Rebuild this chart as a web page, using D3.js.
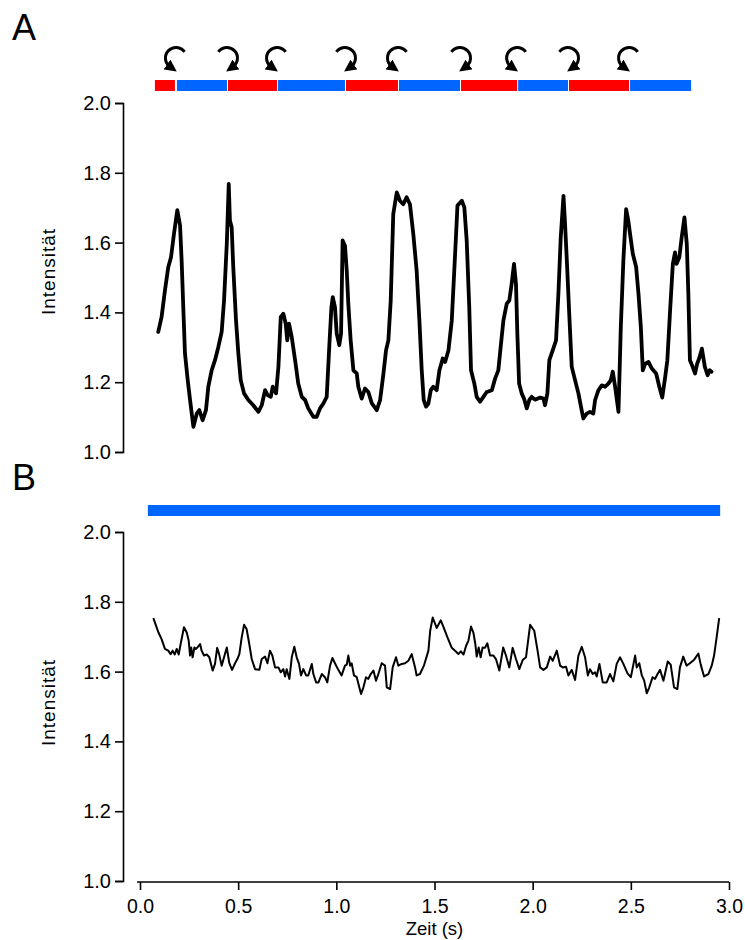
<!DOCTYPE html>
<html>
<head>
<meta charset="utf-8">
<script src="https://cdn.jsdelivr.net/npm/d3@7"></script>
<style>
  html, body { margin: 0; padding: 0; background: #fff; }
  svg { display: block; font-family: "Liberation Sans", Arial, sans-serif; }
</style>
</head>
<body>
<svg id="chart" width="745" height="940"></svg>
<script>
// ---------- data ----------
const xTicks = [0.0, 0.5, 1.0, 1.5, 2.0, 2.5, 3.0];
const yTicks = [1.0, 1.2, 1.4, 1.6, 1.8, 2.0];

// stimulation bar segments in panel A (time boundaries, colors)
const segBounds = [0.076, 0.183, 0.443, 0.698, 1.044, 1.314, 1.630, 1.921, 2.180, 2.491, 2.807];
const segColors = ["red", "blue", "red", "blue", "red", "blue", "red", "blue", "red", "blue"];
// arrows at inner boundaries: "ccw" at red->blue, "cw" at blue->red
const arrowTimes = [0.183, 0.443, 0.698, 1.044, 1.314, 1.630, 1.921, 2.180, 2.491];
const arrowTypes = ["ccw", "cw", "ccw", "cw", "ccw", "cw", "ccw", "cw", "ccw"];

// panel B bar
const barB = [0.04, 2.955];

// panel A trace
const aTime = [0.093,0.110,0.127,0.144,0.158,0.173,0.190,0.204,0.212,0.221,0.229,0.243,0.255,0.272,0.289,0.302,0.319,0.336,0.348,0.365,0.382,0.399,0.416,0.428,0.442,0.452,0.458,0.467,0.475,0.489,0.501,0.513,0.530,0.552,0.577,0.603,0.620,0.637,0.650,0.666,0.676,0.693,0.705,0.717,0.730,0.742,0.750,0.759,0.773,0.790,0.806,0.824,0.841,0.857,0.883,0.900,0.917,0.934,0.951,0.964,0.975,0.982,0.993,1.002,1.015,1.024,1.032,1.044,1.053,1.061,1.073,1.087,1.104,1.112,1.129,1.146,1.163,1.181,1.206,1.223,1.240,1.253,1.265,1.277,1.290,1.308,1.324,1.341,1.358,1.375,1.392,1.409,1.423,1.435,1.445,1.457,1.469,1.481,1.494,1.511,1.525,1.542,1.554,1.571,1.588,1.605,1.617,1.639,1.652,1.664,1.677,1.686,1.703,1.715,1.732,1.749,1.766,1.792,1.809,1.825,1.837,1.851,1.868,1.881,1.893,1.905,1.915,1.922,1.931,1.944,1.956,1.970,1.983,1.995,2.012,2.038,2.055,2.063,2.075,2.085,2.102,2.119,2.131,2.143,2.157,2.165,2.174,2.187,2.199,2.216,2.233,2.246,2.258,2.275,2.292,2.309,2.318,2.335,2.352,2.369,2.386,2.398,2.408,2.420,2.437,2.449,2.462,2.476,2.487,2.496,2.510,2.527,2.539,2.551,2.561,2.573,2.590,2.607,2.629,2.645,2.660,2.675,2.686,2.700,2.714,2.725,2.733,2.747,2.759,2.773,2.785,2.793,2.801,2.815,2.827,2.838,2.848,2.862,2.877,2.891,2.902,2.911];
const aVal = [1.344,1.387,1.463,1.530,1.558,1.625,1.693,1.649,1.549,1.406,1.283,1.206,1.149,1.072,1.110,1.120,1.091,1.120,1.187,1.234,1.263,1.301,1.344,1.434,1.596,1.768,1.663,1.644,1.530,1.377,1.282,1.206,1.168,1.149,1.134,1.115,1.134,1.177,1.163,1.158,1.187,1.168,1.244,1.387,1.396,1.368,1.320,1.368,1.329,1.263,1.196,1.158,1.149,1.125,1.101,1.101,1.125,1.139,1.158,1.301,1.415,1.444,1.415,1.339,1.306,1.339,1.606,1.591,1.520,1.425,1.320,1.234,1.225,1.187,1.153,1.182,1.172,1.139,1.120,1.149,1.225,1.291,1.320,1.434,1.682,1.744,1.720,1.710,1.730,1.710,1.625,1.520,1.377,1.234,1.149,1.130,1.139,1.177,1.187,1.177,1.234,1.268,1.258,1.291,1.377,1.568,1.706,1.720,1.701,1.606,1.415,1.234,1.196,1.158,1.144,1.158,1.172,1.177,1.211,1.234,1.301,1.377,1.425,1.434,1.482,1.539,1.482,1.339,1.196,1.168,1.153,1.125,1.149,1.158,1.150,1.156,1.153,1.134,1.168,1.263,1.291,1.320,1.453,1.615,1.734,1.653,1.549,1.387,1.244,1.206,1.168,1.130,1.096,1.110,1.115,1.110,1.149,1.177,1.191,1.187,1.196,1.206,1.230,1.187,1.115,1.358,1.549,1.696,1.663,1.625,1.568,1.530,1.453,1.358,1.234,1.253,1.258,1.239,1.225,1.187,1.156,1.215,1.263,1.406,1.539,1.572,1.539,1.558,1.615,1.672,1.596,1.453,1.263,1.244,1.225,1.253,1.268,1.296,1.244,1.220,1.234,1.230];

// panel B trace
const bTime = [0.068,0.082,0.094,0.110,0.127,0.144,0.156,0.166,0.177,0.187,0.197,0.207,0.224,0.238,0.248,0.255,0.261,0.268,0.277,0.285,0.295,0.306,0.314,0.326,0.340,0.353,0.370,0.382,0.393,0.403,0.416,0.428,0.442,0.455,0.469,0.484,0.496,0.506,0.518,0.530,0.543,0.555,0.569,0.586,0.608,0.620,0.637,0.649,0.662,0.674,0.688,0.705,0.717,0.730,0.739,0.747,0.761,0.773,0.786,0.798,0.810,0.820,0.832,0.846,0.857,0.875,0.883,0.897,0.909,0.926,0.942,0.954,0.968,0.980,0.993,1.010,1.027,1.044,1.053,1.061,1.070,1.078,1.090,1.104,1.117,1.126,1.138,1.151,1.163,1.175,1.189,1.202,1.214,1.231,1.248,1.257,1.274,1.287,1.304,1.316,1.333,1.350,1.367,1.384,1.401,1.409,1.426,1.446,1.469,1.478,1.491,1.511,1.532,1.545,1.566,1.588,1.610,1.622,1.634,1.648,1.661,1.673,1.686,1.698,1.708,1.715,1.725,1.735,1.745,1.757,1.769,1.783,1.800,1.813,1.830,1.850,1.864,1.881,1.898,1.915,1.932,1.949,1.966,1.987,2.008,2.025,2.038,2.055,2.072,2.089,2.102,2.123,2.140,2.153,2.170,2.182,2.199,2.216,2.233,2.250,2.267,2.281,2.292,2.306,2.318,2.326,2.340,2.357,2.377,2.394,2.411,2.428,2.445,2.462,2.483,2.500,2.510,2.522,2.530,2.543,2.556,2.568,2.581,2.594,2.611,2.623,2.636,2.649,2.666,2.688,2.703,2.720,2.737,2.750,2.767,2.784,2.801,2.821,2.844,2.856,2.873,2.895,2.912,2.924,2.937,2.950];
const bVal = [1.753,1.731,1.712,1.693,1.665,1.660,1.650,1.660,1.649,1.665,1.649,1.679,1.727,1.712,1.689,1.646,1.669,1.641,1.669,1.665,1.671,1.679,1.660,1.646,1.649,1.641,1.603,1.622,1.668,1.650,1.617,1.641,1.669,1.624,1.605,1.624,1.636,1.650,1.698,1.734,1.722,1.684,1.636,1.607,1.605,1.636,1.643,1.624,1.660,1.646,1.612,1.612,1.598,1.607,1.586,1.607,1.579,1.641,1.671,1.641,1.622,1.589,1.607,1.589,1.589,1.622,1.593,1.569,1.569,1.593,1.584,1.569,1.617,1.639,1.624,1.605,1.589,1.617,1.620,1.646,1.617,1.624,1.589,1.584,1.555,1.536,1.555,1.584,1.579,1.593,1.603,1.574,1.593,1.624,1.617,1.555,1.550,1.612,1.641,1.617,1.622,1.624,1.631,1.650,1.612,1.589,1.593,1.617,1.660,1.717,1.755,1.725,1.747,1.729,1.698,1.668,1.657,1.650,1.658,1.649,1.674,1.689,1.729,1.712,1.679,1.643,1.669,1.641,1.669,1.668,1.681,1.646,1.646,1.636,1.603,1.669,1.646,1.612,1.668,1.636,1.607,1.633,1.641,1.734,1.717,1.660,1.612,1.605,1.612,1.643,1.631,1.660,1.617,1.612,1.614,1.589,1.605,1.576,1.646,1.671,1.641,1.589,1.607,1.593,1.598,1.586,1.622,1.569,1.569,1.593,1.572,1.622,1.641,1.622,1.595,1.584,1.612,1.646,1.612,1.624,1.589,1.574,1.538,1.555,1.584,1.579,1.593,1.605,1.574,1.629,1.620,1.555,1.550,1.612,1.643,1.617,1.624,1.633,1.652,1.620,1.586,1.593,1.617,1.646,1.698,1.753];

// ---------- layout ----------
const svg = d3.select("#chart");
const x = d3.scaleLinear().domain([0, 3]).range([140, 729]);
const yA = d3.scaleLinear().domain([1, 2]).range([452, 103]);
const yB = d3.scaleLinear().domain([1, 2]).range([881, 532]);
const axisX = 123;
const RED = "#ff0000", BLUE = "#0066ff";
const FONT = "Liberation Sans, Arial, sans-serif";

// panel letters
svg.append("text").attr("x", 12).attr("y", 40).attr("font-size", 36).text("A");
svg.append("text").attr("x", 12).attr("y", 490).attr("font-size", 36).text("B");

function yAxis(scale) {
  const g = svg.append("g").attr("transform", `translate(${axisX},0)`)
    .call(d3.axisLeft(scale).tickValues(yTicks).tickFormat(d3.format(".1f")).tickSize(8).tickPadding(4));
  g.selectAll("path, line").attr("stroke", "#000").attr("stroke-width", 1.6);
  g.selectAll("text").attr("font-size", 20).attr("font-family", FONT).attr("fill", "#000");
  return g;
}
yAxis(yA);
yAxis(yB);

// y labels
[272, 703].forEach(cy => {
  svg.append("text").attr("transform", `translate(55,${cy}) rotate(-90)`)
    .attr("text-anchor", "middle").attr("font-size", 19)
    .attr("textLength", 86).attr("lengthAdjust", "spacing").text("Intensität");
});

// x axis (panel B)
const gx = svg.append("g").attr("transform", "translate(0,882)")
  .call(d3.axisBottom(x).tickValues(xTicks).tickFormat(d3.format(".1f")).tickSize(8).tickSizeOuter(0).tickPadding(9));
gx.select("path.domain").attr("d", `M${x(-0.015)},0H${x(3)}`);
gx.selectAll("path, line").attr("stroke", "#000").attr("stroke-width", 1.6);
gx.selectAll("text").attr("font-size", 19.5).attr("font-family", FONT).attr("fill", "#000");
svg.append("text").attr("x", x(1.5)).attr("y", 935).attr("text-anchor", "middle").attr("font-size", 18.5).text("Zeit (s)");

// stimulation bar A
const segs = segColors.map((c, i) => ({ c, t0: segBounds[i], t1: segBounds[i + 1] }));
svg.append("g").selectAll("rect").data(segs).join("rect")
  .attr("x", d => x(d.t0) + (d.t0 === segBounds[0] ? 0 : 1))
  .attr("width", d => x(d.t1) - x(d.t0) - 1)
  .attr("y", 80).attr("height", 11)
  .attr("fill", d => d.c === "red" ? RED : BLUE);

// arrows
const defs = svg.append("defs");
defs.append("marker").attr("id", "ah").attr("markerUnits", "userSpaceOnUse")
  .attr("viewBox", "0 0 10 10").attr("refX", 3).attr("refY", 5)
  .attr("markerWidth", 12).attr("markerHeight", 12).attr("orient", "auto")
  .append("path").attr("d", "M0,0L10,5L0,10Z").attr("fill", "#000");

const cy = 58, r = 10.5;
const pt = (cx, deg) => [cx + r * Math.cos(deg * Math.PI / 180), cy + r * Math.sin(deg * Math.PI / 180)];
svg.append("g").selectAll("path").data(arrowTimes.map((t, i) => ({ t, type: arrowTypes[i] }))).join("path")
  .attr("d", d => {
    const cx = x(d.t);
    if (d.type === "ccw") {
      const s = pt(cx, -35), e = pt(cx, 125);
      return `M${s[0]},${s[1]}A${r},${r} 0 1 0 ${e[0]},${e[1]}`;
    } else {
      const s = pt(cx, 215), e = pt(cx, 55);
      return `M${s[0]},${s[1]}A${r},${r} 0 1 1 ${e[0]},${e[1]}`;
    }
  })
  .attr("fill", "none").attr("stroke", "#000").attr("stroke-width", 3)
  .attr("marker-end", "url(#ah)");

// bar B
svg.append("rect").attr("x", x(barB[0])).attr("width", x(barB[1]) - x(barB[0]))
  .attr("y", 505).attr("height", 11).attr("fill", BLUE);

// traces
const lineA = d3.line().x((d, i) => x(aTime[i])).y(d => yA(d));
svg.append("path").attr("d", lineA(aVal)).attr("fill", "none").attr("stroke", "#000")
  .attr("stroke-width", 3.8).attr("stroke-linejoin", "round").attr("stroke-linecap", "round");

const lineB = d3.line().x((d, i) => x(bTime[i])).y(d => yB(d));
svg.append("path").attr("d", lineB(bVal)).attr("fill", "none").attr("stroke", "#000")
  .attr("stroke-width", 2).attr("stroke-linejoin", "round");
</script>
</body>
</html>
